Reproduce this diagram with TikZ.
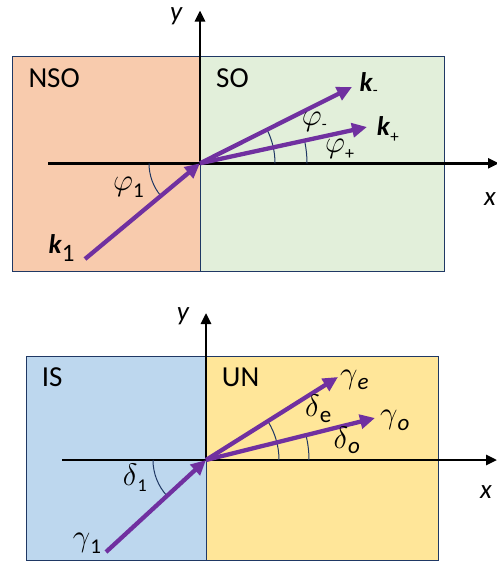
\RequirePackage{fix-cm}
\documentclass[tikz,border=0pt]{standalone}
\usepackage{fontspec}
\setmainfont{Carlito}
\usetikzlibrary{arrows.meta}
\definecolor{peach}{HTML}{F8CBAD}
\definecolor{lgreen}{HTML}{E2EFDA}
\definecolor{lblue}{HTML}{BDD7EE}
\definecolor{lyellow}{HTML}{FFE699}
\definecolor{purp}{HTML}{7030A0}
\definecolor{navy}{HTML}{1F3864}
\newcommand\myboxf{\fontsize{29}{31}\selectfont}
\newcommand\mylblf{\fontsize{27}{29}\selectfont}
\newcommand\mygrf{\fontsize{31}{33}\selectfont}
\newcommand\lowsub[3]{\raisebox{-#1pt}{\fontsize{#2}{#2}\selectfont #3}}
\tikzset{
  region/.style={draw=navy, line width=1pt},
  divider/.style={draw=navy, line width=0.9pt},
  axis/.style={draw=black, line width=2.6pt, -{Triangle[length=11pt,width=10pt]}},
  ray/.style={draw=purp, line width=4.3pt, -{Triangle[length=15pt,width=14pt]}},
  anglearc/.style={draw=navy, line width=1pt},
  boxlabel/.style={font=\myboxf, inner sep=0pt, anchor=base west},
  lbl/.style={font=\mylblf, inner sep=0pt, anchor=base west},
  grl/.style={font=\mygrf, inner sep=0pt, anchor=base west},
}
\begin{document}
\begin{tikzpicture}[x=1pt,y=-1pt]
\useasboundingbox (0,0) rectangle (497,565);
\clip (0,0) rectangle (497,565);
\fill[white] (0,0) rectangle (497,565);
% ---------- top panel ----------
\coordinate (O) at (200,163.3);
\fill[peach] (12.7,56) rectangle (200,271);
\fill[lgreen] (200,56) rectangle (444,271);
\draw[region] (12.7,56) rectangle (444,271);
\draw[divider] (200,56) -- (200,271);
\coordinate (xs) at (48,163.3);
\coordinate (xe) at (499,163.3);
\coordinate (ye) at (200,10.5);
\draw[axis] (xs) -- (xe);
\draw[axis] (O) -- (ye);
\node[lbl] (ylab) at (170,20.5) {\textit{y}};
\node[lbl] (xlab) at (484,205) {\textit{x}};
\node[boxlabel] (nso) at (28.3,87.3) {NSO};
\node[boxlabel] (so) at (216,87.3) {SO};
\coordinate (k1s) at (85,259);
\coordinate (kme) at (352,87);
\coordinate (kpe) at (367,127);
\draw[anglearc] (O) ++(180:51) arc[start angle=180, end angle=140.2, radius=51];
\draw[anglearc] (O) ++(0:75) arc[start angle=0, end angle=-26.6, radius=75];
\draw[anglearc] (O) ++(0:107) arc[start angle=0, end angle=-12.2, radius=107];
\draw[ray] (k1s) -- (O);
\draw[ray] (O) -- (kme);
\draw[ray] (O) -- (kpe);
\node[lbl] (km) at (359.3,91) {\textbf{\textit{k}}\lowsub{4.5}{16}{-}};
\node[lbl] (kp) at (376.7,135) {\textbf{\textit{k}}\lowsub{7}{17}{+}};
\node[lbl] (k1) at (48.3,253.3) {\textbf{\textit{k}}\lowsub{8.4}{25}{1}};
\node[grl] (ph1) at (113,190.5) {$\varphi$\lowsub{7}{21}{1}};
\node[grl] (phm) at (301.7,125.6) {$\varphi$\lowsub{4}{16}{-}};
\node[grl] (php) at (325,152) {$\varphi$\lowsub{7.3}{18}{+}};
% ---------- bottom panel ----------
\coordinate (P) at (206,460);
\fill[lblue] (26,356) rectangle (206,560.7);
\fill[lyellow] (206,356) rectangle (438,560.7);
\draw[region] (26,356) rectangle (438,560.7);
\draw[divider] (206,356) -- (206,560.7);
\coordinate (xs2) at (62,460);
\coordinate (xe2) at (497,460);
\coordinate (ye2) at (206,313);
\draw[axis] (xs2) -- (xe2);
\draw[axis] (P) -- (ye2);
\node[lbl] (ylab2) at (176.7,320) {\textit{y}};
\node[lbl] (xlab2) at (480,498) {\textit{x}};
\node[boxlabel] (is) at (41.7,386.7) {IS};
\node[boxlabel] (un) at (221.7,386.7) {UN};
\coordinate (g1s) at (106,552);
\coordinate (gee) at (338,377);
\coordinate (goe) at (375,418);
\draw[anglearc] (P) ++(180:53) arc[start angle=180, end angle=137.4, radius=53];
\draw[anglearc] (P) ++(0:73) arc[start angle=0, end angle=-32.2, radius=73];
\draw[anglearc] (P) ++(0:103) arc[start angle=0, end angle=-14, radius=103];
\draw[ray] (g1s) -- (P);
\draw[ray] (P) -- (gee);
\draw[ray] (P) -- (goe);
\node[grl] (ge) at (340,383) {$\gamma$\lowsub{6}{23}{\textit{e}}};
\node[grl] (go) at (380,423) {$\gamma$\lowsub{7}{23}{\textit{o}}};
\node[grl] (g1) at (72.7,546.7) {$\gamma$\lowsub{6.6}{21}{1}};
\node[grl] (d1) at (122.7,485) {$\delta$\lowsub{6.7}{18}{1}};
\node[grl] (de) at (305,416.7) {$\delta$\lowsub{6}{23}{e}};
\node[grl] (do) at (333.3,448) {$\delta$\lowsub{5}{23}{\textit{o}}};
\end{tikzpicture}
\end{document}
